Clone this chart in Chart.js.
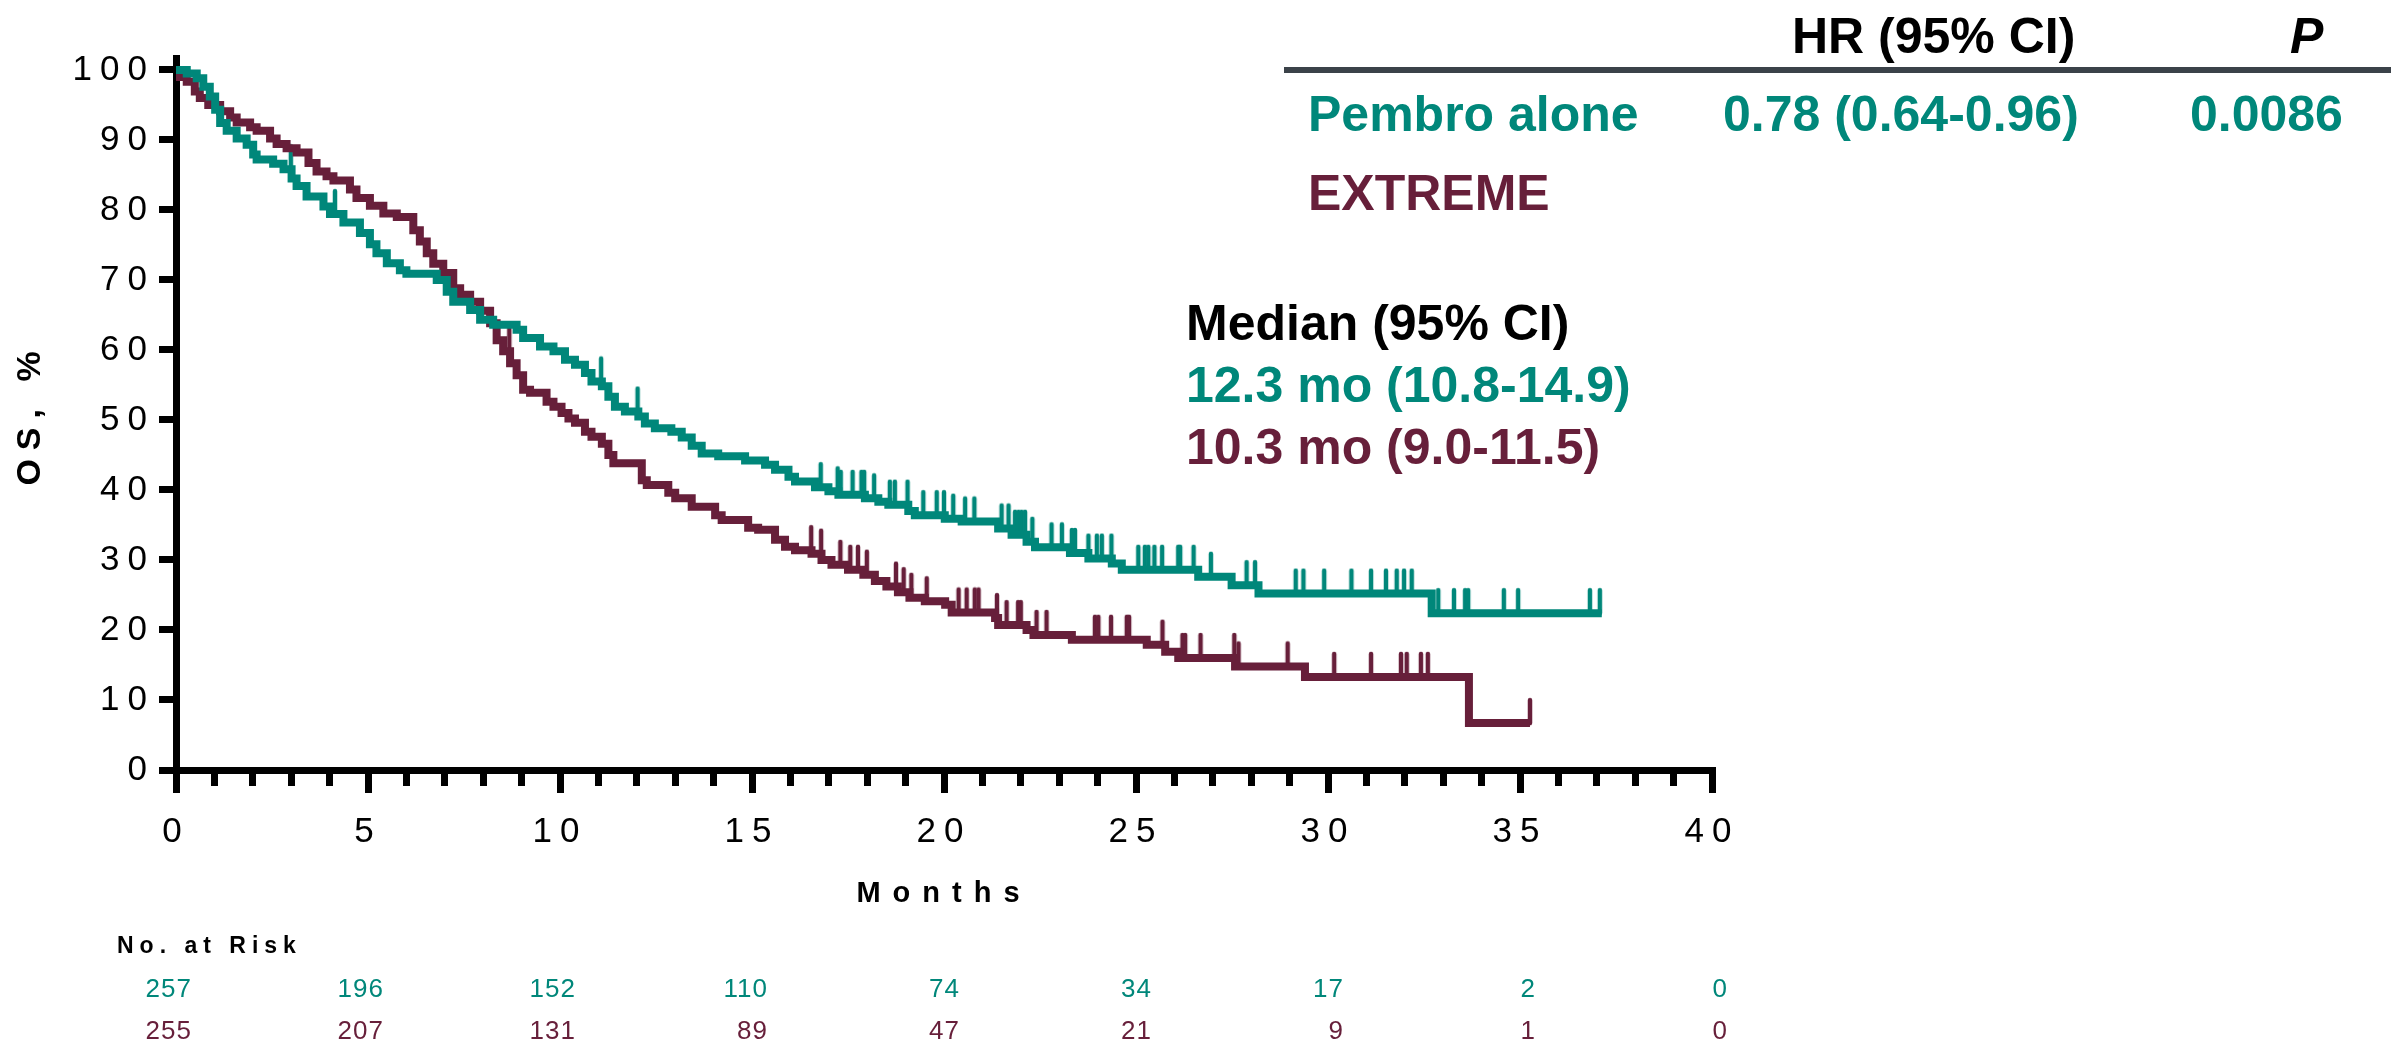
<!DOCTYPE html>
<html>
<head>
<meta charset="utf-8">
<script src="https://cdn.jsdelivr.net/npm/chart.js@4/dist/chart.umd.min.js"></script>
<style>
  html, body { margin: 0; padding: 0; background: #ffffff; }
  canvas { display: block; }
</style>
</head>
<body>
<canvas id="km" width="2391" height="1044"></canvas>
<script>
// ---------------- DATA ----------------
const armNames = ['Pembro alone', 'EXTREME'];

// Kaplan-Meier steps: time (months) and survival (%) after each step
const pembroTime = [0, 0.28, 0.54, 0.71, 0.88, 1.02, 1.15, 1.32, 1.58, 1.84, 2.01, 2.10, 2.53, 2.80, 3.01, 3.14, 3.40, 3.84, 4.01, 4.36, 4.79, 5.05, 5.22, 5.49, 5.83, 6.00, 6.79, 7.05, 7.22, 7.66, 7.92, 8.26, 8.87, 9.04, 9.48, 9.83, 10.13, 10.39, 10.65, 10.82, 11.09, 11.26, 11.43, 11.69, 12.04, 12.21, 12.47, 12.90, 13.17, 13.43, 13.69, 14.12, 14.82, 15.34, 15.60, 15.95, 16.12, 16.64, 16.99, 17.25, 17.94, 18.29, 18.55, 19.07, 19.24, 20.02, 20.46, 21.41, 21.76, 22.15, 22.37, 23.28, 23.76, 24.37, 24.63, 26.62, 27.49, 28.19, 32.70, 37.13];
const pembroSurv = [100, 99.5, 98.8, 97.6, 96.2, 94.3, 92.4, 91.3, 90.2, 89.3, 87.9, 87.2, 86.6, 85.8, 84.5, 83.4, 81.9, 80.5, 79.4, 78.2, 76.7, 75.1, 73.8, 72.4, 71.4, 70.9, 70.0, 68.3, 66.9, 65.7, 64.3, 63.6, 62.9, 61.7, 60.5, 59.8, 58.6, 57.9, 56.7, 55.5, 54.8, 53.3, 51.9, 51.2, 50.5, 49.5, 48.8, 48.3, 47.5, 46.3, 45.2, 44.8, 44.2, 43.6, 42.9, 41.9, 41.2, 40.4, 39.8, 39.3, 38.8, 38.3, 37.9, 37.0, 36.4, 35.9, 35.5, 34.5, 33.6, 32.6, 31.8, 31.0, 30.2, 29.5, 28.6, 27.6, 26.4, 25.2, 22.4, 22.4];

const extremeTime = [0, 0.05, 0.28, 0.49, 0.62, 0.84, 1.15, 1.41, 1.58, 1.93, 2.10, 2.45, 2.62, 2.88, 3.14, 3.45, 3.66, 3.92, 4.10, 4.53, 4.70, 5.05, 5.40, 5.75, 6.18, 6.35, 6.53, 6.70, 6.96, 7.22, 7.40, 7.66, 7.92, 8.18, 8.35, 8.52, 8.70, 8.87, 9.04, 9.22, 9.65, 9.83, 10.04, 10.22, 10.39, 10.65, 10.82, 11.09, 11.26, 11.39, 12.13, 12.26, 12.82, 13.00, 13.43, 14.04, 14.21, 14.90, 15.16, 15.60, 15.86, 16.12, 16.55, 16.81, 17.07, 17.50, 17.90, 18.20, 18.50, 18.80, 19.10, 19.50, 20.03, 20.20, 21.33, 21.41, 22.15, 22.33, 23.33, 25.28, 25.76, 26.10, 27.58, 29.40, 33.67, 35.26];
const extremeSurv = [100, 99.0, 98.3, 96.9, 96.0, 95.0, 94.1, 93.2, 92.5, 91.8, 91.3, 90.2, 89.4, 88.8, 88.2, 86.7, 85.5, 84.8, 84.2, 82.9, 81.7, 80.6, 79.5, 79.0, 77.1, 75.5, 73.8, 72.3, 71.0, 68.8, 67.9, 66.9, 65.6, 63.8, 61.4, 59.8, 58.1, 56.4, 54.3, 53.9, 52.6, 51.9, 51.0, 50.2, 49.6, 48.3, 47.6, 46.6, 45.0, 43.8, 41.4, 40.7, 39.6, 38.8, 37.6, 36.4, 35.7, 34.6, 34.3, 32.9, 31.9, 31.4, 30.9, 30.0, 29.3, 28.6, 27.9, 27.0, 26.2, 25.4, 24.6, 24.1, 23.6, 22.5, 21.7, 20.7, 20.0, 19.3, 18.6, 17.9, 16.9, 16.0, 14.8, 13.3, 6.7, 6.7];

// Censoring times (months)
const pembroCensor = [2.99, 4.14, 11.07, 12.02, 16.79, 17.23, 17.31, 17.62, 17.85, 17.92, 18.18, 18.59, 18.72, 19.05, 19.46, 19.81, 20.00, 20.24, 20.55, 20.79, 21.50, 21.68, 21.85, 21.94, 22.02, 22.11, 22.30, 22.80, 23.07, 23.33, 23.41, 23.76, 23.98, 24.11, 24.36, 25.06, 25.23, 25.32, 25.48, 25.68, 26.10, 26.15, 26.50, 26.95, 27.88, 28.10, 29.16, 29.36, 29.90, 30.61, 31.12, 31.51, 31.79, 31.98, 32.18, 32.87, 33.28, 33.57, 33.65, 34.58, 34.95, 36.82, 37.08];
const extremeCensor = [8.68, 16.54, 16.80, 17.30, 17.56, 17.76, 17.99, 18.75, 18.95, 19.15, 19.55, 20.38, 20.59, 20.80, 20.90, 21.38, 21.63, 21.93, 22.00, 22.41, 22.67, 23.93, 24.02, 24.35, 24.76, 24.82, 25.69, 26.21, 26.28, 26.68, 27.56, 27.67, 28.95, 30.16, 31.12, 31.90, 32.05, 32.42, 32.60, 35.26];

// Axes
const xTickLabels = [0, 5, 10, 15, 20, 25, 30, 35, 40];
const xMinorStep = 1;
const yTickLabels = [0, 10, 20, 30, 40, 50, 60, 70, 80, 90, 100];
const xTitle = 'Months';
const yTitle = 'OS, %';

// Number at risk
const riskTitle = 'No. at Risk';
const riskTimes = [0, 5, 10, 15, 20, 25, 30, 35, 40];
const pembroRisk = [257, 196, 152, 110, 74, 34, 17, 2, 0];
const extremeRisk = [255, 207, 131, 89, 47, 21, 9, 1, 0];

// Table / annotations
const tableHeaderHR = 'HR (95% CI)';
const tableHeaderP = 'P';
const hrText = '0.78 (0.64-0.96)';
const pText = '0.0086';
const medianTitle = 'Median (95% CI)';
const medianTexts = ['12.3 mo (10.8-14.9)', '10.3 mo (9.0-11.5)'];

// ---------------- STYLE ----------------
const TEAL = '#00877a';
const MAROON = '#671f3a';
const FONT = '"Liberation Sans", Arial, Helvetica, sans-serif';

function survAt(times, surv, t) {
  let s = surv[0];
  for (let i = 0; i < times.length; i++) {
    if (times[i] <= t) s = surv[i]; else break;
  }
  return s;
}
function steps(times, surv) { return times.map((t, i) => ({x: t, y: surv[i]})); }
function censors(times, surv, cens) { return cens.map(t => ({x: t, y: survAt(times, surv, t)})); }

function censorMark(color) {
  const c = document.createElement('canvas');
  c.width = 8; c.height = 52;
  const g = c.getContext('2d');
  g.strokeStyle = color; g.lineWidth = 4.5; g.lineCap = 'round';
  g.beginPath(); g.moveTo(4, 3); g.lineTo(4, 26); g.stroke();
  return c;
}

function withSpacing(fn, ls) {
  return function (...args) {
    const c = this.ctx;
    const prev = c.letterSpacing;
    c.letterSpacing = ls;
    try { return fn.apply(this, args); } finally { c.letterSpacing = prev; }
  };
}
const SPACING = { x: {labels: '8px', title: '12px'}, y: {labels: '8px', title: '9px'} };
const spacingPlugin = {
  id: 'spacing',
  afterLayout(chart) {
    for (const id of Object.keys(SPACING)) {
      const s = chart.scales[id];
      if (!s || s._spaced) continue;
      s.drawLabels = withSpacing(s.drawLabels, SPACING[id].labels);
      s.drawTitle = withSpacing(s.drawTitle, SPACING[id].title);
      s._spaced = true;
    }
  }
};

const annotationPlugin = {
  id: 'annotations',
  afterDraw(chart) {
    const ctx = chart.ctx;
    const xs = chart.scales.x;
    ctx.save();
    ctx.letterSpacing = '0px';
    ctx.textBaseline = 'alphabetic';
    ctx.textAlign = 'left';
    const bold = 'bold 50px ' + FONT;

    // table header
    ctx.font = bold; ctx.fillStyle = '#000';
    ctx.fillText(tableHeaderHR, 1792, 53);
    ctx.font = 'italic bold 50px ' + FONT;
    ctx.fillText(tableHeaderP, 2290, 53);
    ctx.fillStyle = '#3b4249';
    ctx.fillRect(1284, 67, 1107, 6);

    ctx.font = bold;
    ctx.fillStyle = TEAL;
    ctx.fillText(armNames[0], 1308, 131);
    ctx.fillText(hrText, 1723, 131);
    ctx.fillText(pText, 2190, 131);
    ctx.fillStyle = MAROON;
    ctx.fillText(armNames[1], 1308, 210);

    // medians
    ctx.fillStyle = '#000';
    ctx.fillText(medianTitle, 1186, 340);
    ctx.fillStyle = TEAL;
    ctx.fillText(medianTexts[0], 1186, 402);
    ctx.fillStyle = MAROON;
    ctx.fillText(medianTexts[1], 1186, 464);

    // number at risk
    ctx.fillStyle = '#000';
    ctx.font = 'bold 23px ' + FONT;
    ctx.letterSpacing = '6px';
    ctx.fillText(riskTitle, 117, 953);
    ctx.font = '26px ' + FONT;
    ctx.letterSpacing = '1px';
    ctx.textAlign = 'right';
    riskTimes.forEach((t, i) => {
      const px = xs.getPixelForValue(t) + 16;
      ctx.fillStyle = TEAL;
      ctx.fillText(String(pembroRisk[i]), px, 997);
      ctx.fillStyle = MAROON;
      ctx.fillText(String(extremeRisk[i]), px, 1039);
    });
    ctx.restore();
  }
};

const minorTicks = [];
for (let v = xTickLabels[0]; v <= xTickLabels[xTickLabels.length - 1]; v += xMinorStep) minorTicks.push(v);

new Chart(document.getElementById('km'), {
  type: 'line',
  data: {
    datasets: [
      { label: armNames[0], data: steps(pembroTime, pembroSurv), borderColor: TEAL, backgroundColor: TEAL,
        borderWidth: 8, stepped: true, pointRadius: 0, fill: false, borderJoinStyle: 'miter' },
      { label: armNames[1], data: steps(extremeTime, extremeSurv), borderColor: MAROON, backgroundColor: MAROON,
        borderWidth: 8, stepped: true, pointRadius: 0, fill: false, borderJoinStyle: 'miter' },
      { label: armNames[0] + ' censored', data: censors(pembroTime, pembroSurv, pembroCensor), showLine: false,
        pointStyle: censorMark(TEAL), pointRadius: 5, borderColor: TEAL, backgroundColor: TEAL },
      { label: armNames[1] + ' censored', data: censors(extremeTime, extremeSurv, extremeCensor), showLine: false,
        pointStyle: censorMark(MAROON), pointRadius: 5, borderColor: MAROON, backgroundColor: MAROON }
    ]
  },
  options: {
    responsive: false,
    animation: false,
    events: [],
    layout: { padding: { left: 0, top: 58, right: 679, bottom: 133 } },
    plugins: { legend: { display: false }, tooltip: { enabled: false }, title: { display: false } },
    scales: {
      x: {
        type: 'linear', min: 0, max: 40,
        afterBuildTicks: s => { s.ticks = minorTicks.map(v => ({value: v})); },
        afterFit: s => { s.height = 141; },
        grid: {
          drawOnChartArea: false, drawTicks: true, tickLength: 23, tickWidth: 7, tickColor: '#000', lineWidth: 7,
          tickBorderDash: c => (c.tick && xTickLabels.includes(c.tick.value)) ? [] : [12, 100]
        },
        border: { display: true, color: '#000', width: 7 },
        ticks: {
          autoSkip: false, maxRotation: 0, minRotation: 0, color: '#000', padding: 18,
          font: { family: FONT, size: 35 },
          callback: v => xTickLabels.includes(v) ? String(v) : ''
        },
        title: { display: true, text: xTitle, color: '#000', font: { family: FONT, size: 29, weight: 'bold' },
                 padding: { top: 0, bottom: 0 } }
      },
      y: {
        type: 'linear', min: 0, max: 101.7,
        afterBuildTicks: s => { s.ticks = yTickLabels.map(v => ({value: v})); },
        afterFit: s => { s.width = 176; },
        grid: { drawOnChartArea: false, drawTicks: true, tickLength: 17, tickWidth: 7, tickColor: '#000', lineWidth: 7 },
        border: { display: true, color: '#000', width: 7 },
        ticks: { color: '#000', padding: 4, font: { family: FONT, size: 35 }, callback: v => String(v) },
        title: { display: true, text: yTitle, color: '#000', font: { family: FONT, size: 34, weight: 'bold' },
                 padding: { top: 10, bottom: 0 } }
      }
    }
  },
  plugins: [spacingPlugin, annotationPlugin]
});
</script>
</body>
</html>
